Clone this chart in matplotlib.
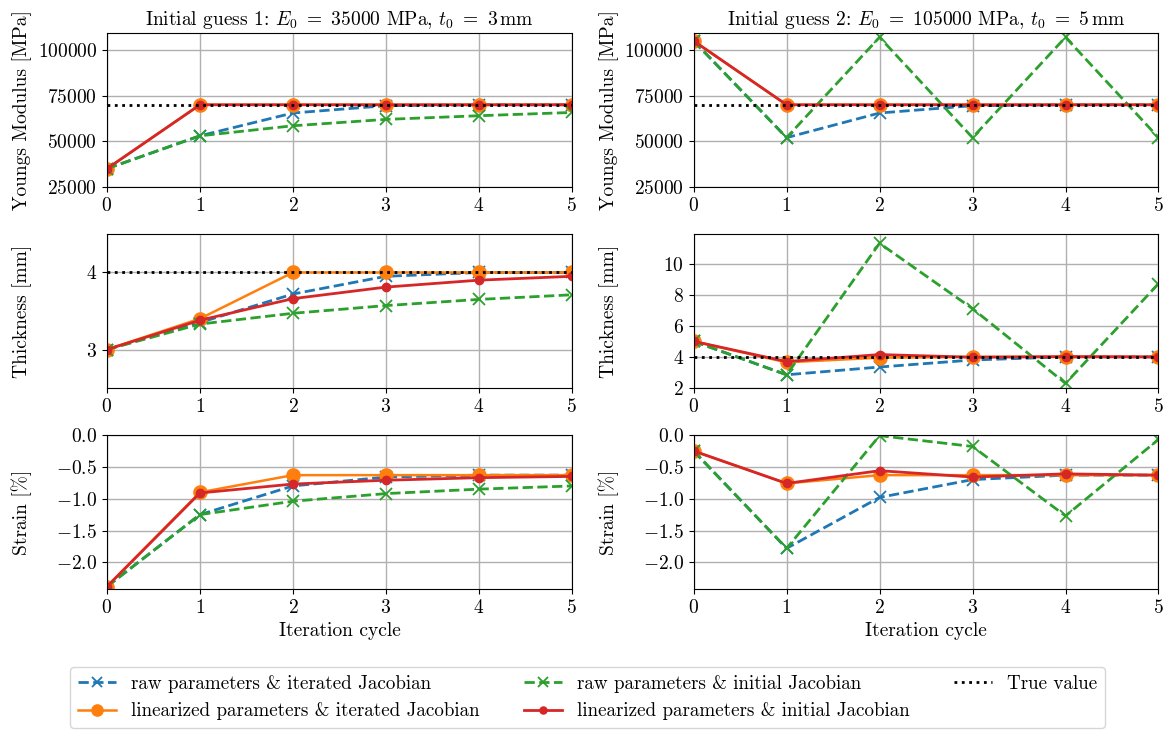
import matplotlib
matplotlib.use("Agg")
import matplotlib.pyplot as plt

plt.rcParams['font.family'] = 'serif'
plt.rcParams['font.serif'] = ['cmr10', 'DejaVu Serif']
plt.rcParams['mathtext.fontset'] = 'cm'
plt.rcParams['axes.formatter.use_mathtext'] = True
plt.rcParams['font.size'] = 14

iterations = [0, 1, 2, 3, 4, 5]

# initial guess 1: E0 = 35000 MPa, t0 = 3 mm
g1_E_raw_iter = [35000, 53000, 65500, 69500, 70000, 70000]
g1_E_raw_init = [35000, 53000, 58500, 62000, 64000, 65800]
g1_E_lin_iter = [35000, 70000, 70000, 70000, 70000, 70000]
g1_E_lin_init = [35000, 70000, 70000, 70000, 70000, 70000]

g1_t_raw_iter = [3.0, 3.35, 3.72, 3.95, 4.0, 4.0]
g1_t_raw_init = [3.0, 3.33, 3.47, 3.57, 3.65, 3.71]
g1_t_lin_iter = [3.0, 3.40, 4.0, 4.0, 4.0, 4.0]
g1_t_lin_init = [3.0, 3.38, 3.66, 3.81, 3.90, 3.95]

g1_s_raw_iter = [-2.38, -1.25, -0.80, -0.66, -0.63, -0.63]
g1_s_raw_init = [-2.38, -1.25, -1.04, -0.92, -0.85, -0.80]
g1_s_lin_iter = [-2.38, -0.90, -0.63, -0.63, -0.63, -0.63]
g1_s_lin_init = [-2.38, -0.91, -0.77, -0.71, -0.67, -0.65]

# initial guess 2: E0 = 105000 MPa, t0 = 5 mm
g2_E_raw_iter = [105000, 52000, 65500, 69500, 70000, 70000]
g2_E_raw_init = [105000, 52000, 107000, 52000, 107000, 52000]
g2_E_lin_iter = [105000, 70000, 70000, 70000, 70000, 70000]
g2_E_lin_init = [105000, 70000, 70000, 70000, 70000, 70000]

g2_t_raw_iter = [5.0, 2.85, 3.35, 3.80, 4.0, 4.0]
g2_t_raw_init = [5.0, 2.85, 11.3, 7.1, 2.3, 8.7]
g2_t_lin_iter = [5.0, 3.65, 3.95, 4.0, 4.0, 4.0]
g2_t_lin_init = [5.0, 3.70, 4.15, 3.98, 4.02, 4.0]

g2_s_raw_iter = [-0.25, -1.78, -0.98, -0.70, -0.63, -0.63]
g2_s_raw_init = [-0.25, -1.78, -0.01, -0.18, -1.27, -0.07]
g2_s_lin_iter = [-0.25, -0.76, -0.63, -0.63, -0.63, -0.63]
g2_s_lin_init = [-0.25, -0.76, -0.56, -0.66, -0.61, -0.63]

true_E = 70000
true_t = 4.0

titles = [r"Initial guess 1: $E_0\ =\ 35000$ MPa, $t_0\ =\ 3\,\mathrm{mm}$",
          r"Initial guess 2: $E_0\ =\ 105000$ MPa, $t_0\ =\ 5\,\mathrm{mm}$"]
ylabels = ["Youngs Modulus [MPa]", "Thickness [mm]", "Strain [%]"]
labels = ["raw parameters & iterated Jacobian",
          "linearized parameters & iterated Jacobian",
          "raw parameters & initial Jacobian",
          "linearized parameters & initial Jacobian",
          "True value"]

columns = [
    [(g1_E_raw_iter, g1_E_lin_iter, g1_E_raw_init, g1_E_lin_init, true_E),
     (g1_t_raw_iter, g1_t_lin_iter, g1_t_raw_init, g1_t_lin_init, true_t),
     (g1_s_raw_iter, g1_s_lin_iter, g1_s_raw_init, g1_s_lin_init, None)],
    [(g2_E_raw_iter, g2_E_lin_iter, g2_E_raw_init, g2_E_lin_init, true_E),
     (g2_t_raw_iter, g2_t_lin_iter, g2_t_raw_init, g2_t_lin_init, true_t),
     (g2_s_raw_iter, g2_s_lin_iter, g2_s_raw_init, g2_s_lin_init, None)],
]

ylims = [[(25000, 109400), (2.5, 4.5), (-2.42, 0.0)],
         [(25000, 109400), (2.0, 11.9), (-2.42, 0.0)]]

fig, axes = plt.subplots(3, 2, figsize=(11.69, 7.30), dpi=100)
fig.subplots_adjust(left=0.0915, right=0.991, top=0.955, bottom=0.193,
                    hspace=0.305, wspace=0.262)

handles = None
for c in range(2):
    for r in range(3):
        ax = axes[r, c]
        raw_iter, lin_iter, raw_init, lin_init, true_val = columns[c][r]
        h1, = ax.plot(iterations, raw_iter, color="#1f77b4", ls="--", lw=2,
                      marker="x", ms=9, mew=1.3, label=labels[0])
        h2, = ax.plot(iterations, lin_iter, color="#ff7f0e", ls="-", lw=1.8,
                      marker="o", ms=9.5, label=labels[1])
        h3, = ax.plot(iterations, raw_init, color="#2ca02c", ls="--", lw=2,
                      marker="x", ms=9, mew=1.3, label=labels[2])
        h4, = ax.plot(iterations, lin_init, color="#d62728", ls="-", lw=2,
                      marker="o", ms=6, label=labels[3])
        if true_val is not None:
            h5 = ax.axhline(true_val, color="black", ls=":", lw=2, zorder=5,
                            label=labels[4])
            handles = [h1, h2, h3, h4, h5]
        ax.set_xlim(0, 5)
        ax.set_ylim(*ylims[c][r])
        ax.set_xticks(iterations)
        ax.grid(True, color="#b0b0b0", lw=1)
        ax.set_ylabel(ylabels[r])
        if r == 0:
            ax.set_title(titles[c], fontsize=14)
        if r == 2:
            ax.set_xlabel("Iteration cycle")
    axes[0, c].set_yticks([25000, 50000, 75000, 100000])
    axes[2, c].set_yticks([0.0, -0.5, -1.0, -1.5, -2.0])

axes[1, 0].set_yticks([3, 4])
axes[1, 1].set_yticks([2, 4, 6, 8, 10])

fig.align_ylabels(axes[:, 0])
fig.align_ylabels(axes[:, 1])

fig.legend(handles, labels, loc="lower center", ncol=3,
           bbox_to_anchor=(0.5026, -0.01), fontsize=13.7, columnspacing=2.3,
           handlelength=2.0, markerscale=0.85)

fig.savefig("out.png", dpi=100)
